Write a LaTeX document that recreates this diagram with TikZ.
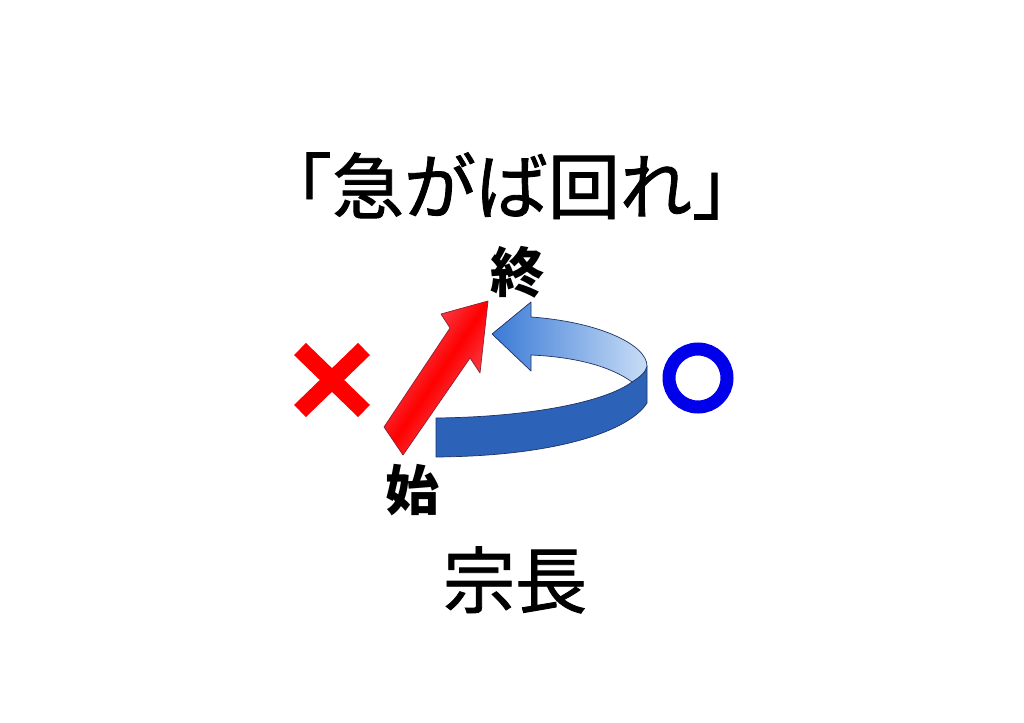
\documentclass[tikz,border=0pt]{standalone}
\usepackage{fontspec}
\newfontfamily\jpfont{Noto Sans CJK JP}
\newfontfamily\jpthick{Noto Sans CJK JP}[FakeBold=1.2]
\definecolor{ribbon}{RGB}{44,98,184}
\definecolor{ribbonlight}{RGB}{200,221,246}
\definecolor{ribbonmid}{RGB}{58,122,214}
\definecolor{ribbonedge}{RGB}{30,50,100}
\definecolor{arrowedge}{RGB}{140,30,50}
\definecolor{arrowpink}{RGB}{242,110,125}
\definecolor{ringblue}{RGB}{0,0,235}
\tikzset{
  redarrow/.style={draw=arrowedge,line width=0.7pt,line join=round,
    left color=arrowpink,right color=arrowpink,middle color=red,shading angle=56},
  ribbonband/.style={draw=ribbonedge,line width=0.7pt,line join=round},
  crossline/.style={draw=red,line width=17pt},
  ringline/.style={draw=ringblue,line width=13pt},
  kanji/.style={font=\jpfont\bfseries\fontsize{#1}{#1}\selectfont}
}
\begin{document}
\begin{tikzpicture}[x=1pt,y=-1pt,inner sep=0pt]
    \useasboundingbox[fill=white] (0,0) rectangle (1024,722);
    %labels
    \node (title) at (512,186) [font=\jpthick\fontsize{72}{72}\selectfont]{「急がば回れ」};
    \node (endlabel) at (517,272) [kanji=54]{終};
    \node (startlabel) at (412,490) [kanji=54]{始};
    \node (author) at (515,580) [font=\jpthick\fontsize{72}{72}\selectfont]{宗長};

    %cross and ring
    \draw [crossline] (300,349) -- (364,411);
    \draw [crossline] (300,411) -- (364,349);
    \coordinate (ring) at (698,378);
    \draw [ringline] (ring) circle [radius=29];

    %straight way
    \draw [redarrow] (384,427) -- (450,328) -- (441,314) -- (488,301)
        -- (480,373) -- (470,358) -- (403,455) -- cycle;

    %round way
    \draw [ribbonband,fill=ribbon] (436,418) .. controls (530,417) and (605,402) .. (632,382)
        .. controls (640,377) and (646,372) .. (647,366) -- (647,403)
        .. controls (630,430) and (560,456) .. (436,457) -- cycle;
    \draw [ribbonband,left color=ribbonmid,right color=ribbonlight] (531,317)
        .. controls (600,322) and (647,345) .. (647,366)
        .. controls (646,372) and (640,377) .. (632,382)
        .. controls (610,366) and (575,357) .. (531,355)
        -- (531,371) -- (492,334) -- (531,302) -- cycle;
\end{tikzpicture}
\end{document}
